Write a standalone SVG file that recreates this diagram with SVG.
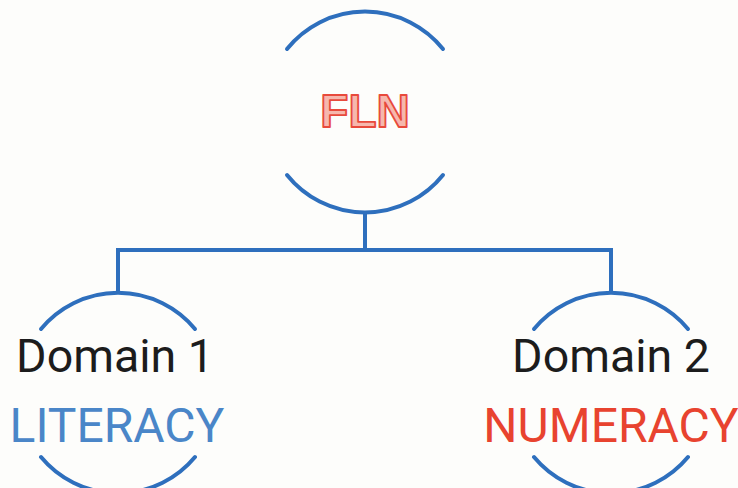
<svg xmlns="http://www.w3.org/2000/svg" width="738" height="488" viewBox="0 0 738 488">
  <style>
    .ring { fill: none; stroke: #2e6fbd; stroke-width: 4; stroke-linecap: round; }
    .link { fill: none; stroke: #2e6fbd; stroke-width: 4; }
    .label { font-family: Roboto, "Liberation Sans", sans-serif; font-size: 46.5px; text-anchor: middle; }
    .domain { fill: #1c1c1c; }
    .lit { fill: #4a86c8; font-size: 48px; }
    .num { fill: #e8432f; font-size: 48px; }
    .root { font-family: "Liberation Sans", Arial, sans-serif; font-weight: bold; font-size: 46px; text-anchor: middle; fill: #f6b7ad; stroke: #e84a3c; stroke-width: 1.8; stroke-linejoin: round; }
  </style>
  <rect width="738" height="488" fill="#fdfdfb"/>

  <g id="connectors">
    <path class="link" d="M365,212 V250"/>
    <path class="link" d="M116,250 H613"/>
    <path class="link" d="M118,248 V293"/>
    <path class="link" d="M611,248 V293"/>
  </g>

  <g id="fln">
    <path class="ring" d="M287,49 A100,100 0 0 1 443,49"/>
    <path class="ring" d="M287,175 A100,100 0 0 0 443,175"/>
    <text class="root" x="365" y="127">FLN</text>
  </g>

  <g id="domain1">
    <path class="ring" d="M41,329 A100,100 0 0 1 195,329"/>
    <path class="ring" d="M41,457 A100,100 0 0 0 195,457"/>
    <text class="label domain" x="115" y="372">Domain 1</text>
    <text class="label lit" x="117" y="442">LITERACY</text>
  </g>

  <g id="domain2">
    <path class="ring" d="M534,329 A100,100 0 0 1 688,329"/>
    <path class="ring" d="M534,457 A100,100 0 0 0 688,457"/>
    <text class="label domain" x="611" y="372">Domain 2</text>
    <text class="label num" x="611" y="442">NUMERACY</text>
  </g>
</svg>
